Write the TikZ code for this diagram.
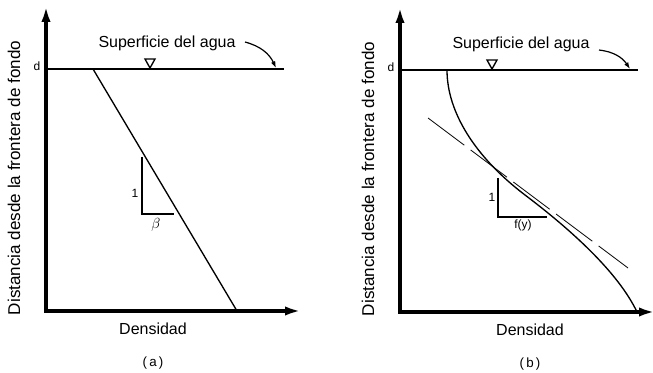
\documentclass[tikz,border=0pt]{standalone}
\usepackage{fontspec}
\setmainfont{Liberation Sans}
\usetikzlibrary{arrows.meta}

\begin{document}
\begin{tikzpicture}[
    x=0.75pt, y=-0.75pt,
    every node/.style={font=\fontsize{12}{14}\selectfont, inner sep=0pt},
    >={Latex[length=12pt,width=7pt]},
    axis/.style={line width=2.4pt, ->},
    surface/.style={line width=1.4pt},
    profile/.style={line width=1pt},
    small/.style={font=\fontsize{9}{10}\selectfont},
]
\useasboundingbox (0,0) rectangle (653,373);

% === Frame shared by both panels ===
\foreach \ox/\oy/\pan/\xlab/\tri/\ya in {46/311/a/107/104/-269, 400/312/b/130/92/-262} {
  \begin{scope}[shift={(\ox,\oy)}]
    \coordinate (O-\pan) at (0,0);
    \coordinate (ytop-\pan) at (0,-305);
    \coordinate (xend-\pan) at (255,0);
    \coordinate (ws0-\pan) at (0,-242);
    \coordinate (ws1-\pan) at (238,-242);
    \coordinate (wsa-\pan) at (230,-243);
    % axes
    \draw[axis] ([yshift=-0.8pt]O-\pan) -- (ytop-\pan);
    \draw[axis] ([xshift=-1.2pt]O-\pan) -- (xend-\pan);
    % water surface
    \draw[surface] (ws0-\pan) -- (ws1-\pan);
    \draw[line width=1pt] (\tri-5,-252) -- (\tri+5,-252) -- (\tri,-243) -- cycle;
    \node[small] (d-\pan) at (-9,-245) {d};
    \node (sup-\pan) at (121,-268) {Superficie del agua};
    \draw[->, line width=0.9pt, >={Latex[length=5pt,width=3.5pt]}]
        (199,\ya) to[bend left=25] (wsa-\pan);
    % axis labels
    \node (dens-\pan) at (\xlab,18) {Densidad};
    \node[rotate=90, font=\fontsize{12.8}{14}\selectfont] (dist-\pan) at (-32,-133)
        {Distancia desde la frontera de fondo};
    \node[font=\fontsize{10}{12}\selectfont] (cap-\pan) at (\xlab,52) {(\,\pan\,)};
  \end{scope}
}

% === Panel (a): linear profile ===
\begin{scope}[shift={(46,311)}]
  \coordinate (lin0) at (47,-242);
  \coordinate (lin1) at (191,0);
  \draw[profile] (lin0) -- (lin1);
  % slope triangle
  \coordinate (sa0) at (96,-154);
  \coordinate (sa1) at (96,-97);
  \coordinate (sa2) at (128,-97);
  \draw[line width=1.2pt] (sa0) -- (sa1) -- (sa2);
  \node[small] (one-a) at (89,-118) {1};
  \node[font=\fontsize{11}{12}\selectfont] (beta) at (110,-86) {$\beta$};
\end{scope}

% === Panel (b): curved profile with tangent ===
\begin{scope}[shift={(400,312)}]
  \coordinate (cur0) at (47,-242);
  \coordinate (curm) at (125,-117);
  \coordinate (cur1) at (237,0);
  \draw[profile] (cur0) .. controls (47,-200) and (75,-155) .. (curm)
      .. controls (170,-83) and (218,-40) .. (cur1);
  % tangent at the inflection
  \coordinate (tan0) at (28,-194);
  \coordinate (tan1) at (228,-44);
  \draw[line width=0.6pt, dash pattern=on 34pt off 6pt] (tan0) -- (tan1);
  % slope triangle
  \coordinate (sb0) at (98,-134);
  \coordinate (sb1) at (98,-95);
  \coordinate (sb2) at (147,-95);
  \draw[line width=1.2pt] (sb0) -- (sb1) -- (sb2);
  \node[small] (one-b) at (92,-115) {1};
  \node[small] (fy) at (123,-87) {f(y)};
\end{scope}

\end{tikzpicture}
\end{document}
